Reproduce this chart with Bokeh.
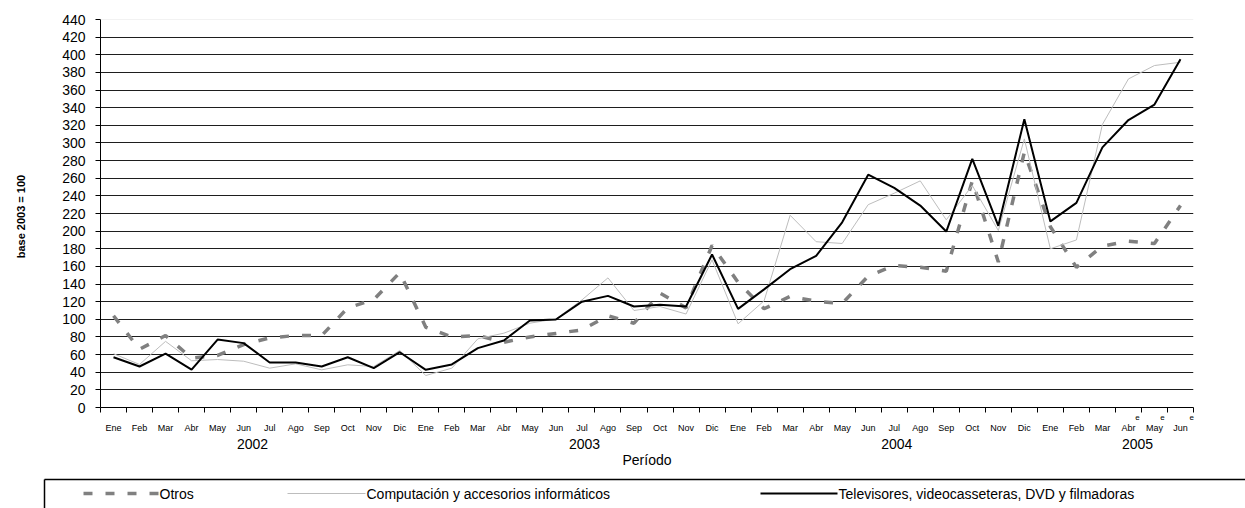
from bokeh.plotting import figure
from bokeh.models import Range1d, FixedTicker, Span, LinearAxis
from bokeh.embed import file_html
from bokeh.resources import INLINE

# ---------------- data ----------------
months = ["Ene", "Feb", "Mar", "Abr", "May", "Jun", "Jul", "Ago", "Sep", "Oct", "Nov", "Dic"]
month_labels = months * 3 + months[:6]
years = ["2002", "2003", "2004", "2005"]
year_pos = [5.34, 18.1, 30.1, 39.35]
estimated_pos = [39.35, 40.31, 41.43]

otros = [104, 66, 81.6, 56, 59, 71.4, 79, 81.6, 81.6, 113, 122.4, 153,
         91, 80, 81.6, 74, 80, 84, 88, 104, 95.6, 129.6, 113, 183.7,
         142, 112, 126, 120.5, 118, 149, 161, 159, 154.6, 257, 165, 289.5,
         205, 159, 183, 188.6, 186, 229]
computacion = [61, 48.8, 75, 53, 54.4, 52.5, 44.6, 49.5, 42.7, 48.4, 46.5, 64.6,
               36.3, 44.6, 77.9, 84.3, 95.6, 100.5, 122, 147, 110, 114.5, 106, 167.4,
               94.9, 121, 218, 188, 186, 230, 243, 257, 212.8, 251.7, 200.7, 304.6,
               180, 190, 321, 372.6, 387.8, 391.5]
televisores = [57, 46.5, 61, 43, 77, 73, 51, 51, 46.5, 57, 44.6, 62.7,
               42.7, 48.8, 67.3, 76, 98.6, 99.8, 120, 126.6, 114.5, 116.4, 114.5, 173.5,
               111.9, 134, 156.8, 172, 210, 264, 249, 229, 199.5, 282, 206, 327,
               211, 232, 295, 326, 343.5, 395]

series_names = ["Otros",
                "Computación y accesorios informáticos",
                "Televisores, videocasseteras, DVD y filmadoras"]

FONT = "Liberation Sans"
C_OTROS, C_COMP, C_TV = "#808080", "#bdbdbd", "#000000"

# ---------------- main chart ----------------
W, H = 1245, 470
FL, FT, FR, FB = 100, 19, 1193, 407
N = len(month_labels)
xs = list(range(N))

p = figure(width=W, height=H, output_backend="svg", toolbar_location=None,
           x_range=Range1d(-0.5, N - 0.5), y_range=Range1d(0, 440),
           x_axis_location=None,
           min_border_left=FL, min_border_top=FT, min_border_right=W - FR,
           min_border_bottom=H - FB, outline_line_color=None,
           background_fill_color="white", border_fill_color="white")

p.line(xs, otros, line_color=C_OTROS, line_width=3.5, line_dash="9 13")
p.line(xs, computacion, line_color=C_COMP, line_width=1)
p.line(xs, televisores, line_color=C_TV, line_width=2)

# y axis
p.yaxis.ticker = FixedTicker(ticks=list(range(0, 441, 20)))
p.yaxis.major_tick_out = 5
p.yaxis.major_tick_in = 0
p.yaxis.minor_tick_line_color = None
p.yaxis.major_label_text_font = FONT
p.yaxis.major_label_text_font_size = "14px"
p.yaxis.major_label_text_color = "black"
p.yaxis.major_label_standoff = 10
p.yaxis.axis_line_color = "black"
p.yaxis.axis_label = "base   2003 = 100"
p.yaxis.axis_label_text_font = FONT
p.yaxis.axis_label_text_font_size = "11px"
p.yaxis.axis_label_text_font_style = "bold"
p.yaxis.axis_label_text_color = "black"
p.yaxis.axis_label_standoff = 32

# x axis A: axis line, category boundary ticks and the "e" (estimated) marks
boundaries = [i - 0.5 for i in range(N + 1)]
ax_e = LinearAxis(ticker=FixedTicker(ticks=estimated_pos, minor_ticks=boundaries),
                  major_label_overrides={v: "e" for v in estimated_pos},
                  major_tick_line_color=None, major_tick_out=5, major_tick_in=0,
                  minor_tick_line_color="black", minor_tick_out=5, minor_tick_in=0,
                  axis_line_color="black", major_label_standoff=2,
                  major_label_text_font=FONT, major_label_text_font_size="8px",
                  major_label_text_color="black")
p.add_layout(ax_e, "below")

# x axis B: month labels
ax_m = LinearAxis(ticker=FixedTicker(ticks=xs, minor_ticks=[]),
                  major_label_overrides={i: lab for i, lab in enumerate(month_labels)},
                  major_tick_line_color=None, major_tick_out=0, major_tick_in=0,
                  minor_tick_line_color=None, axis_line_color=None,
                  major_label_standoff=0,
                  major_label_text_font=FONT, major_label_text_font_size="9px",
                  major_label_text_color="black")
p.add_layout(ax_m, "below")

# x axis C: years + axis title
ax_y = LinearAxis(ticker=FixedTicker(ticks=year_pos, minor_ticks=[]),
                  major_label_overrides={v: y for v, y in zip(year_pos, years)},
                  major_tick_line_color=None, major_tick_out=0, major_tick_in=0,
                  minor_tick_line_color=None, axis_line_color=None,
                  major_label_standoff=3,
                  major_label_text_font=FONT, major_label_text_font_size="14px",
                  major_label_text_color="black",
                  axis_label="Período", axis_label_text_font=FONT,
                  axis_label_text_font_size="14px", axis_label_text_font_style="normal",
                  axis_label_text_color="black", axis_label_standoff=0)
p.add_layout(ax_y, "below")

p.xgrid.visible = False
p.ygrid.ticker = FixedTicker(ticks=list(range(20, 421, 20)))
p.ygrid.grid_line_color = "#1e1e1e"
p.ygrid.grid_line_width = 1
p.add_layout(Span(location=440, dimension="width", line_color="#e6e6e6", line_width=1))

# ---------------- legend strip (pixel coordinates) ----------------
LT = H            # legend strip starts where the chart ends
LH = 508 - LT
lg = figure(width=W, height=LH, output_backend="svg", toolbar_location=None,
            x_range=Range1d(0, W), y_range=Range1d(LH, 0),
            min_border=0, outline_line_color=None,
            background_fill_color="white", border_fill_color="white")
lg.axis.visible = False
lg.grid.visible = False

box_top = 479 - LT
box_left = 44
lg.segment(x0=[box_left, box_left], y0=[box_top, box_top], x1=[W, box_left], y1=[box_top, LH],
           line_color="black", line_width=1.5)

ly = 493 - LT
leg_lines = [(83, 158), (287, 365), (760, 837)]
leg_styles = [dict(line_color=C_OTROS, line_width=3.5, line_dash="9 13"),
              dict(line_color=C_COMP, line_width=1),
              dict(line_color=C_TV, line_width=2)]
for (a, b), st in zip(leg_lines, leg_styles):
    lg.line([a, b], [ly, ly], **st)
lg.text(x=[b + 1 for (a, b) in leg_lines], y=[ly] * 3, text=series_names,
        text_font={"value": FONT}, text_font_size="14px", text_baseline="middle",
        text_align="left", text_color="black")

open("out.html", "w").write(file_html([p, lg], INLINE))
